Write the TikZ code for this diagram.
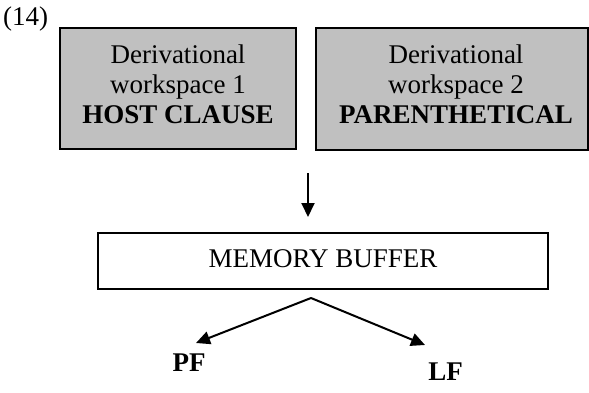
\documentclass[tikz,border=0pt]{standalone}
\usepackage{fontspec}
\setmainfont{Liberation Serif}
\usetikzlibrary{arrows.meta}
\definecolor{boxgrey}{HTML}{C0C0C0}
\begin{document}
\begin{tikzpicture}[x=1pt,y=-1pt,
  bigtext/.style={font=\fontsize{27}{30}\selectfont},
  wsbox/.style={draw=black, line width=1.8pt, fill=boxgrey, inner sep=0pt},
  wstext/.style={bigtext, align=center, inner sep=0pt, anchor=north},
  bufbox/.style={draw=black, line width=1.8pt, fill=white, inner sep=0pt,
    minimum width=450pt, minimum height=56pt, bigtext, text depth=4pt},
  arr/.style={line width=2pt, -{Triangle[length=14pt,width=13pt]}},
  lvl/.style={bigtext, font=\fontsize{27}{30}\selectfont\bfseries, anchor=base, inner sep=0pt}
]
\useasboundingbox (0,0) rectangle (589,393);

% example number
\node[bigtext, anchor=base west, inner sep=0pt] (exnum) at (3,26) {(14)};

% the two derivational workspaces
\node[wsbox, minimum width=236pt, minimum height=121pt] (ws1) at (178,88.5) {};
\node[wstext] (ws1text) at (178,44.5) {Derivational\\workspace 1\\\textbf{HOST CLAUSE}};

\node[wsbox, minimum width=272pt, minimum height=122pt] (ws2) at (452,89) {};
\node[wstext] (ws2text) at (456,44.5) {Derivational\\workspace 2\\\textbf{PARENTHETICAL}};

% memory buffer
\node[bufbox] (buf) at (323,261) {MEMORY BUFFER};

% interface levels
\node[lvl] (pf) at (189,371) {PF};
\node[lvl] (lf) at (445.5,380) {LF};

% arrow endpoints
\coordinate (intop) at (308,173);
\coordinate (intip) at (308,217);
\coordinate (split) at (311,298);
\coordinate (pftip) at (196,343);
\coordinate (lftip) at (425,345);

\draw[arr] (intop) -- (intip);
\draw[arr] (split) -- (pftip);
\draw[arr] (split) -- (lftip);
\end{tikzpicture}
\end{document}
